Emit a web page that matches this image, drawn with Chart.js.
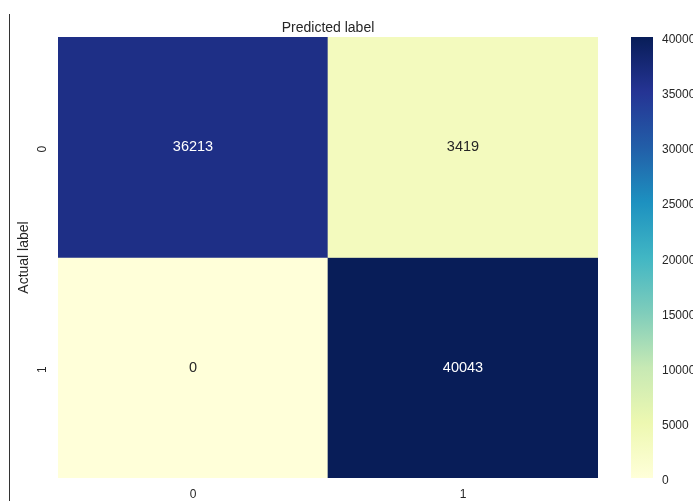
<!DOCTYPE html>
<html>
<head>
<meta charset="utf-8">
<script src="https://cdn.jsdelivr.net/npm/chart.js@4/dist/chart.umd.min.js"></script>
<style>
  html, body { margin: 0; padding: 0; background: #ffffff; overflow: hidden; width: 693px; height: 501px; }
  #wrap { position: relative; width: 693px; height: 501px; overflow: hidden; }
  #main { position: absolute; left: 0; top: 0; }
  #cbar { position: absolute; left: 600px; top: 0; }
  #edge { position: absolute; left: 9px; top: 14px; width: 0; height: 490px; border-left: 1px solid #333333; }
</style>
</head>
<body>
<div id="wrap">
  <canvas id="main" width="693" height="501"></canvas>
  <canvas id="cbar" width="120" height="501"></canvas>
  <div id="edge"></div>
</div>
<script>
// ---- data ----
const predictedLabels = ['0', '1'];
const actualLabels = ['0', '1'];
const actual0 = [36213, 3419];
const actual1 = [0, 40043];
const colorbarTicks = [0, 5000, 10000, 15000, 20000, 25000, 30000, 35000, 40000];

const rows = [actual0, actual1];
const vmin = 0;
const vmax = Math.max(...actual0, ...actual1);

// YlGnBu colormap stops
const ylgnbu = ['#ffffd9', '#edf8b1', '#c7e9b4', '#7fcdbb', '#41b6c4', '#1d91c0', '#225ea8', '#253494', '#081d58'];
function hexToRgb(h) { return [parseInt(h.slice(1, 3), 16), parseInt(h.slice(3, 5), 16), parseInt(h.slice(5, 7), 16)]; }
function cmap(t) {
  t = Math.max(0, Math.min(1, t));
  const p = t * (ylgnbu.length - 1);
  const i = Math.min(Math.floor(p), ylgnbu.length - 2);
  const f = p - i;
  const a = hexToRgb(ylgnbu[i]), b = hexToRgb(ylgnbu[i + 1]);
  const c = a.map((v, k) => Math.round(v + (b[k] - v) * f));
  return 'rgb(' + c.join(',') + ')';
}

const FONT = '"Liberation Sans", Arial, sans-serif';
const TEXT = '#262626';
Chart.defaults.font.family = FONT;
Chart.defaults.color = TEXT;

const cellText = {
  id: 'cellText',
  afterDatasetsDraw(chart) {
    const ctx = chart.ctx;
    ctx.save();
    ctx.font = '14.5px ' + FONT;
    ctx.textAlign = 'center';
    ctx.textBaseline = 'middle';
    rows.forEach((row, i) => {
      const meta = chart.getDatasetMeta(i);
      meta.data.forEach((el, j) => {
        const v = row[j];
        const t = (v - vmin) / (vmax - vmin);
        ctx.fillStyle = t > 0.5 ? '#ffffff' : TEXT;
        ctx.fillText(String(v), el.x, (el.y + el.base) / 2);
      });
    });
    ctx.restore();
  }
};

const yTickLabels = {
  id: 'yTickLabels',
  afterDraw(chart) {
    const ctx = chart.ctx;
    const y = chart.scales.y;
    ctx.save();
    ctx.font = '12px ' + FONT;
    ctx.fillStyle = TEXT;
    ctx.textAlign = 'center';
    ctx.textBaseline = 'middle';
    actualLabels.forEach((lab, i) => {
      const py = y.getPixelForValue(i + 0.5) + 2;
      ctx.save();
      ctx.translate(43, py);
      ctx.rotate(-Math.PI / 2);
      ctx.fillText(lab, 0, 0);
      ctx.restore();
    });
    ctx.restore();
  }
};

new Chart(document.getElementById('main'), {
  type: 'bar',
  data: {
    labels: predictedLabels,
    datasets: rows.map((row, r) => ({
      label: 'Actual ' + actualLabels[r],
      data: row.map(() => [r, r + 1]),
      backgroundColor: row.map(v => cmap((v - vmin) / (vmax - vmin))),
      borderWidth: 0,
      grouped: false,
      barPercentage: 1,
      categoryPercentage: 1
    }))
  },
  options: {
    responsive: false,
    animation: false,
    devicePixelRatio: 1,
    layout: { padding: { left: 0, right: 95, top: 0, bottom: 0 } },
    plugins: { legend: { display: false }, tooltip: { enabled: false } },
    scales: {
      x: {
        type: 'category',
        position: 'bottom',
        grid: { display: false, drawTicks: false },
        border: { display: false },
        ticks: { font: { size: 12 }, color: TEXT, padding: 9, maxRotation: 0 },
        afterFit(s) { s.height = 23; }
      },
      xTop: {
        type: 'category',
        labels: predictedLabels,
        position: 'top',
        grid: { display: false, drawTicks: false },
        border: { display: false },
        ticks: { display: false },
        title: { display: true, text: 'Predicted label', font: { size: 14 }, color: TEXT, padding: { top: 20, bottom: 0 } },
        afterFit(s) { s.height = 37; }
      },
      y: {
        type: 'linear',
        reverse: true,
        min: 0,
        max: actualLabels.length,
        grid: { display: false, drawTicks: false },
        border: { display: false },
        ticks: { display: false },
        title: { display: true, text: 'Actual label', font: { size: 14 }, color: TEXT, padding: { top: 16, bottom: 0 } },
        afterFit(s) { s.width = 58; }
      }
    }
  },
  plugins: [cellText, yTickLabels]
});

// ---- colorbar ----
new Chart(document.getElementById('cbar'), {
  type: 'bar',
  data: {
    labels: ['scale'],
    datasets: [{
      data: [[vmin, vmax]],
      borderWidth: 0,
      barPercentage: 1,
      categoryPercentage: 1,
      backgroundColor(ctx) {
        const area = ctx.chart.chartArea;
        if (!area) return ylgnbu[0];
        const g = ctx.chart.ctx.createLinearGradient(0, area.bottom, 0, area.top);
        ylgnbu.forEach((c, i) => g.addColorStop(i / (ylgnbu.length - 1), c));
        return g;
      }
    }]
  },
  options: {
    responsive: false,
    animation: false,
    devicePixelRatio: 1,
    layout: { padding: { left: 31, right: 0, top: 37, bottom: 23 } },
    plugins: { legend: { display: false }, tooltip: { enabled: false } },
    scales: {
      x: { display: false },
      y: {
        type: 'linear',
        position: 'right',
        min: vmin,
        max: vmax,
        grid: { display: false, drawTicks: false },
        border: { display: false },
        afterBuildTicks(s) { s.ticks = colorbarTicks.map(v => ({ value: v })); },
        ticks: { font: { size: 12 }, color: TEXT, padding: 9, labelOffset: 2.5, callback: v => String(v) },
        afterFit(s) { s.width = 67; }
      }
    }
  }
});
</script>
</body>
</html>
